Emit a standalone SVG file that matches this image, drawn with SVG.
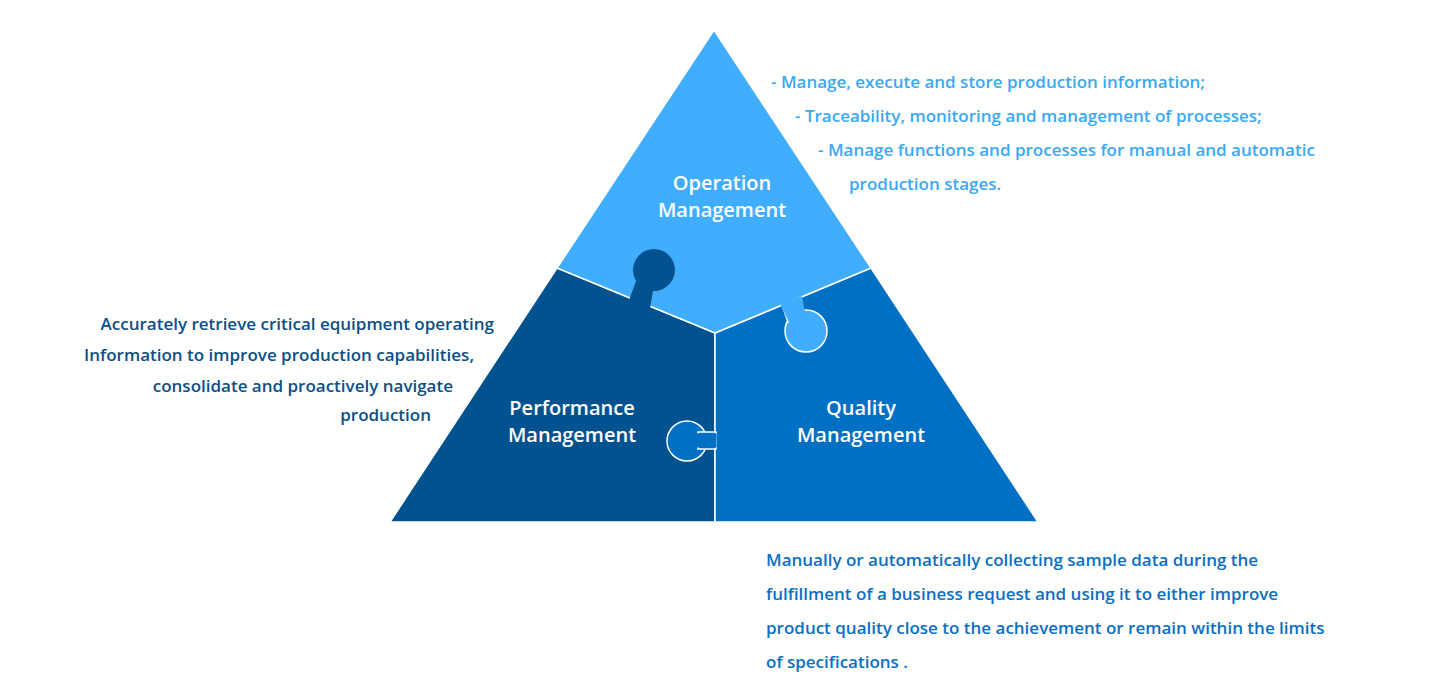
<svg xmlns="http://www.w3.org/2000/svg" width="1438" height="694" viewBox="0 0 1438 694">
<style>
.t{font-family:"Open Sans","Liberation Sans",sans-serif;font-weight:600;fill:#fff;font-size:20px;text-anchor:middle}
.d{font-family:"Open Sans","Liberation Sans",sans-serif;font-weight:600;font-size:17px}
.ln{stroke:#fff;stroke-width:1.5}
</style>
<rect width="1438" height="694" fill="#fff"/>
<g id="performance">
<polygon points="557,268 715,333 715,522 390,522" fill="#02528f" class="ln"/>
</g>
<g id="quality">
<polygon points="871,268 715,333 715,522 1038,522" fill="#0070c4" class="ln"/>
</g>
<g id="operation">
<polygon points="714,30 871,268 715,333 557,268" fill="#41aefd" class="ln"/>
</g>
<g id="tabs">
<circle cx="654" cy="270" r="21" fill="#02528f"/>
<polygon points="629,300 650,309 654,284 636,281" fill="#02528f"/>
<circle cx="806" cy="331" r="21" fill="#41aefd" class="ln"/>
<polygon points="782,305 800,298 804,316 788,322" fill="#41aefd" class="ln"/>
<polygon points="780,304 802,296 806,318 790,324" fill="#41aefd" stroke="none"/>
<circle cx="687" cy="441" r="20" fill="#0070c4" class="ln"/>
<rect x="698" y="432" width="18" height="17" fill="#0070c4" class="ln"/>
<rect x="696" y="433.5" width="20.5" height="14" fill="#0070c4"/>
</g>
<text class="t" x="722" y="190">Operation</text>
<text class="t" x="722" y="217">Management</text>
<text class="t" x="572" y="415">Performance</text>
<text class="t" x="572" y="442">Management</text>
<text class="t" x="861" y="415">Quality</text>
<text class="t" x="861" y="442">Management</text>
<g class="d" fill="#3aa9f5">
<text x="771" y="88">- Manage, execute and store production information;</text>
<text x="795" y="122">- Traceability, monitoring and management of processes;</text>
<text x="818" y="156">- Manage functions and processes for manual and automatic</text>
<text x="849" y="190">production stages.</text>
</g>
<g class="d" fill="#0c4f86" text-anchor="end">
<text x="494" y="330">Accurately retrieve critical equipment operating</text>
<text x="474" y="361">Information to improve production capabilities,</text>
<text x="453" y="392">consolidate and proactively navigate</text>
<text x="431" y="421">production</text>
</g>
<g class="d" fill="#0a6fc2">
<text x="766" y="566">Manually or automatically collecting sample data during the</text>
<text x="766" y="600">fulfillment of a business request and using it to either improve</text>
<text x="766" y="634">product quality close to the achievement or remain within the limits</text>
<text x="766" y="668">of specifications .</text>
</g>
</svg>
